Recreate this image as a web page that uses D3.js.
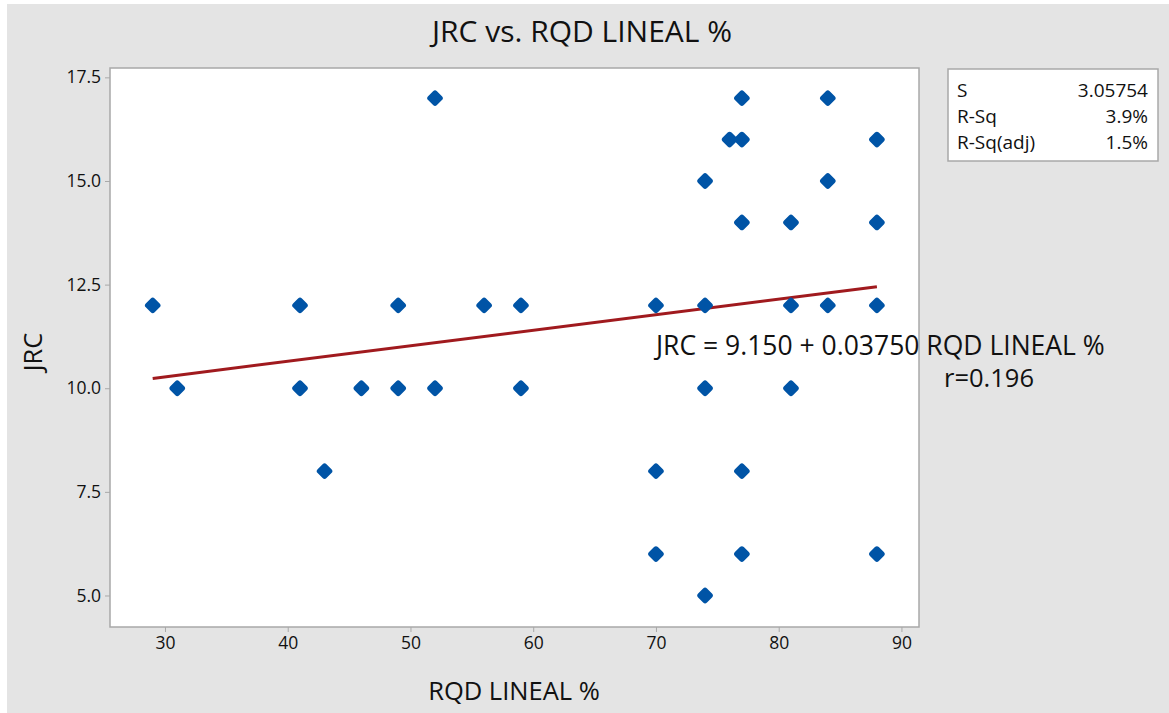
<!DOCTYPE html>
<html>
<head>
<meta charset="utf-8">
<script src="https://cdn.jsdelivr.net/npm/d3@7"></script>
<style>
  html, body { margin: 0; padding: 0; background: #ffffff; }
  svg { display: block; font-family: "Open Sans", "Noto Sans", sans-serif; }
</style>
</head>
<body>
<svg id="chart" width="1169" height="713"></svg>
<script>
// Observations: RQD LINEAL % (x) and JRC (y)
const rqd = [52, 77, 84, 76, 77, 88, 74, 84, 77, 81, 88,
             29, 41, 49, 56, 59, 70, 74, 81, 84, 88,
             31, 41, 46, 49, 52, 59, 74, 81,
             43, 70, 77, 70, 77, 88, 74];
const jrc = [17, 17, 17, 16, 16, 16, 15, 15, 14, 14, 14,
             12, 12, 12, 12, 12, 12, 12, 12, 12, 12,
             10, 10, 10, 10, 10, 10, 10, 10,
             8, 8, 8, 6, 6, 6, 5];

// Fitted regression: JRC = intercept + slope * RQD
const intercept = 9.150;
const slope = 0.03750;
const fitRange = [29, 88];

const xTicks = [30, 40, 50, 60, 70, 80, 90];
const yTicks = [5.0, 7.5, 10.0, 12.5, 15.0, 17.5];

const statLabels = ["S", "R-Sq", "R-Sq(adj)"];
const statValues = ["3.05754", "3.9%", "1.5%"];

const svg = d3.select("#chart");
const W = 1169, H = 713;

// Gray panel
svg.append("rect").attr("x", 7).attr("y", 4).attr("width", W - 7).attr("height", H - 4)
  .attr("fill", "#e4e4e4");

const plot = { left: 110, right: 919, top: 68, bottom: 627 };

const x = d3.scaleLinear().domain([25.52, 91.43]).range([plot.left, plot.right]);
const y = d3.scaleLinear().domain([4.24, 17.726]).range([plot.bottom, plot.top]);

// Plot area
svg.append("rect")
  .attr("x", plot.left).attr("y", plot.top)
  .attr("width", plot.right - plot.left).attr("height", plot.bottom - plot.top)
  .attr("fill", "#ffffff").attr("stroke", "#a8a8a8").attr("stroke-width", 1.5);

// Axes
const xAxis = d3.axisBottom(x).tickValues(xTicks).tickSize(5).tickPadding(5).tickFormat(d3.format("d"));
const yAxis = d3.axisLeft(y).tickValues(yTicks).tickSize(5).tickPadding(4).tickFormat(d3.format(".1f"));

const gx = svg.append("g").attr("transform", `translate(0,${plot.bottom})`).call(xAxis);
const gy = svg.append("g").attr("transform", `translate(${plot.left},0)`).call(yAxis);
[gx, gy].forEach(g => {
  g.select(".domain").remove();
  g.selectAll(".tick line").attr("stroke", "#a8a8a8").attr("stroke-width", 1);
  g.selectAll(".tick text").attr("fill", "#111").style("font-size", "17.5px")
    .style("font-family", "'Open Sans', sans-serif");
});

// Axis titles
svg.append("text").attr("x", 514).attr("y", 700)
  .attr("text-anchor", "middle").attr("fill", "#111").style("font-size", "25.5px")
  .text("RQD LINEAL %");
svg.append("text").attr("transform", `translate(42,352) rotate(-90)`)
  .attr("text-anchor", "middle").attr("fill", "#111").style("font-size", "25.5px")
  .text("JRC");

// Title
svg.append("text").attr("x", 582).attr("y", 42).attr("text-anchor", "middle")
  .attr("fill", "#111").style("font-size", "30px").text("JRC vs. RQD LINEAL %");

// Regression line
svg.append("line")
  .attr("x1", x(fitRange[0])).attr("y1", y(intercept + slope * fitRange[0]))
  .attr("x2", x(fitRange[1])).attr("y2", y(intercept + slope * fitRange[1]))
  .attr("stroke", "#a01a1e").attr("stroke-width", 3);

// Points (rounded diamonds)
const pts = rqd.map((v, i) => ({ x: v, y: jrc[i] }));
const diamond = d3.symbol().type(d3.symbolSquare).size(50);
svg.append("g").selectAll("path").data(pts).join("path")
  .attr("d", diamond)
  .attr("transform", d => `translate(${x(d.x)},${y(d.y)}) rotate(45)`)
  .attr("fill", "#0054a6").attr("stroke", "#0054a6")
  .attr("stroke-width", 5.5).attr("stroke-linejoin", "round");

// Equation annotation
svg.append("text").attr("x", 656).attr("y", 355).attr("fill", "#111")
  .style("font-size", "26.5px").text("JRC = 9.150 + 0.03750 RQD LINEAL %");
svg.append("text").attr("x", 944).attr("y", 387).attr("fill", "#111")
  .style("font-size", "25.5px").text("r=0.196");

// Statistics box
const box = { x: 948, y: 69, w: 210, h: 92 };
svg.append("rect").attr("x", box.x).attr("y", box.y).attr("width", box.w).attr("height", box.h)
  .attr("fill", "#ffffff").attr("stroke", "#a8a8a8").attr("stroke-width", 1.5);
const rows = svg.append("g").style("font-size", "19px").attr("fill", "#111");
statLabels.forEach((lab, i) => {
  rows.append("text").attr("x", box.x + 9).attr("y", box.y + 28 + i * 26).text(lab);
  rows.append("text").attr("x", box.x + box.w - 10).attr("y", box.y + 28 + i * 26)
    .attr("text-anchor", "end").text(statValues[i]);
});
</script>
</body>
</html>
